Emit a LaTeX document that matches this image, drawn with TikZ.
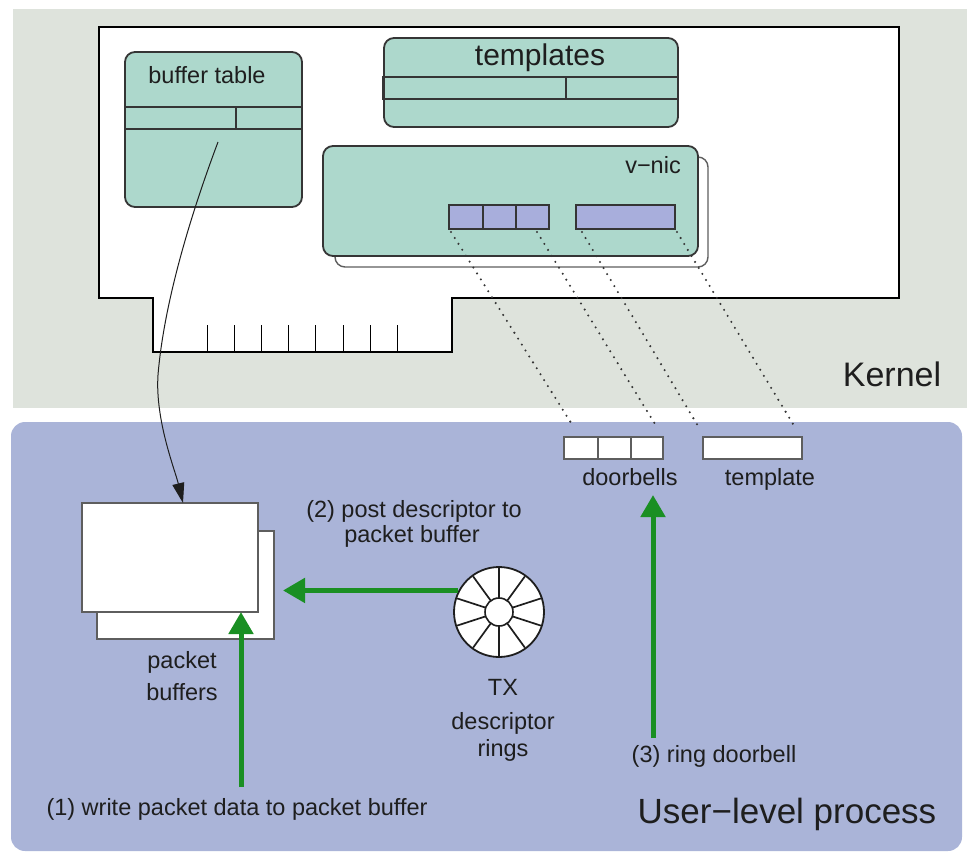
\documentclass[tikz,border=0pt]{standalone}
\usepackage{fontspec}
\setmainfont{Liberation Sans}
\usetikzlibrary{calc,arrows.meta}

\definecolor{kernelbg}{HTML}{DEE3DC}
\definecolor{userbg}{HTML}{AAB4D8}
\definecolor{tealfill}{HTML}{ADD8CC}
\definecolor{slotfill}{HTML}{A8AEDC}
\definecolor{flowgreen}{HTML}{1A8F23}
\definecolor{ink}{HTML}{1E1E1E}
\definecolor{edge}{HTML}{353535}
\definecolor{softedge}{HTML}{5E5E5E}

\tikzset{
  lbl/.style={font=\fontsize{23.5}{28}\selectfont, text=ink, inner sep=0pt, anchor=base},
  biglbl/.style={font=\fontsize{34}{40}\selectfont, text=ink, inner sep=0pt, anchor=base},
  tealbox/.style={draw=edge, line width=1.8pt, fill=tealfill, rounded corners=10pt,
    inner sep=0pt, outer sep=0pt, anchor=north west},
  backbox/.style={draw=softedge, line width=1.4pt, fill=white, rounded corners=10pt,
    inner sep=0pt, outer sep=0pt, anchor=north west},
  slot/.style={draw=edge, line width=1.2pt, fill=slotfill, inner sep=0pt, outer sep=0pt,
    anchor=north west, minimum height=24pt},
  uslot/.style={draw=softedge, line width=1.2pt, fill=white, inner sep=0pt, outer sep=0pt,
    anchor=north west, minimum height=22pt},
  bufsheet/.style={draw=softedge, line width=1.3pt, fill=white, inner sep=0pt, outer sep=0pt,
    anchor=north west},
  rowline/.style={draw=edge, line width=1.3pt},
  dotline/.style={draw=edge, line width=2.3pt, line cap=round, dash pattern=on 0pt off 7pt},
  garrow/.style={draw=flowgreen, line width=5pt, -{Triangle[length=22pt,width=24pt]}},
  karrow/.style={draw=ink, line width=1pt, -{Triangle[length=20pt,width=12pt]}},
}

\begin{document}
\begin{tikzpicture}[x=1pt,y=-1pt]
\useasboundingbox (0,0) rectangle (969,855);

% the two protection domains
\fill[kernelbg] (13,9) rectangle (967,408);
\fill[userbg, rounded corners=14pt] (11,422) rectangle (962,851);

% network card outline with its edge connector
\draw[black, line width=1.8pt, fill=white]
  (99,27) -- (899,27) -- (899,298) -- (452,298) -- (452,352)
  -- (153,352) -- (153,298) -- (99,298) -- cycle;
\foreach \i in {0,...,7}
  \draw[black, line width=1pt] ({207+27.2*\i},325) -- ({207+27.2*\i},352);

% buffer table
\node[tealbox, minimum width=177pt, minimum height=155pt] (btab) at (125,52) {};
\node[lbl] (btablbl) at (207,83) {buffer table};
\draw[rowline] (125,107) -- (302,107) (125,129) -- (302,129) (236,107) -- (236,129);

% templates
\node[tealbox, minimum width=294pt, minimum height=89pt] (tmpl) at (384,38) {};
\node[lbl, font=\fontsize{30}{34}\selectfont] (tmpllbl) at (540,65) {templates};
\draw[rowline] (383,77) rectangle (678,99) (566,77) -- (566,99);

% virtual NIC with a second one stacked behind
\node[backbox, minimum width=373pt, minimum height=110pt] (vnicback) at (335,157) {};
\node[tealbox, minimum width=375pt, minimum height=110pt] (vnic) at (323,146) {};
\node[lbl] (vniclbl) at (653,173) {v−nic};
\node[slot, minimum width=100pt] (vdb) at (449,205) {};
\draw[rowline] (483,205) -- (483,229) (516,205) -- (516,229);
\node[slot, minimum width=99pt] (vtp) at (576,205) {};

% doorbells and template mapped into the process
\node[uslot, minimum width=99pt] (udb) at (564,437) {};
\draw[draw=softedge, line width=1.2pt] (598,437) -- (598,459) (631,437) -- (631,459);
\node[uslot, minimum width=99pt] (utp) at (703,437) {};
\node[lbl] (udblbl) at (630,485) {doorbells};
\node[lbl] (utplbl) at (770,485) {template};

% mappings from the NIC into user space
\draw[dotline] ($(vdb.south west)+(2,3)$) -- ($(udb.north west)+(9,-11)$);
\draw[dotline] ($(vdb.south east)+(-12,3)$) -- ($(udb.north east)+(-8,-13)$);
\draw[dotline] ($(vtp.south west)+(6,3)$) -- ($(utp.north west)+(-5,-11)$);
\draw[dotline] ($(vtp.south east)+(2,3)$) -- ($(utp.north east)+(-9,-13)$);

% packet buffers
\node[bufsheet, minimum width=177pt, minimum height=108pt] (pbb) at (97,531) {};
\node[bufsheet, minimum width=176pt, minimum height=109pt] (pbf) at (82,503) {};
\node[lbl] (pbl1) at (182,668) {packet};
\node[lbl] (pbl2) at (182,700) {buffers};

% TX descriptor ring
\node[circle, draw=ink, line width=1.8pt, fill=white, minimum size=90pt, inner sep=0pt] (ring) at (499,612) {};
\foreach \a in {90,126,...,414}
  \draw[ink, line width=1.7pt] ($(ring.center)+(\a:14pt)$) -- ($(ring.center)+(\a:44pt)$);
\node[circle, draw=ink, line width=1.6pt, fill=white, minimum size=28pt, inner sep=0pt] (hub) at (ring.center) {};
\node[lbl] (txl1) at (503,695) {TX};
\node[lbl] (txl2) at (503,729) {descriptor};
\node[lbl] (txl3) at (503,756) {rings};

% buffer table entry refers to the packet buffer
\draw[karrow] ($(btab.north)+(4.5,90)$)
  .. controls (200,190) and (165,290) .. (158,375)
  .. controls (155,420) and (175,470) .. ($(pbf.north)+(13,0)$);

% steps
\node[lbl] (step1) at (237,815) {(1) write packet data to packet buffer};
\coordinate (s1) at (241,787);
\draw[garrow] (s1) -- (s1 |- pbf.south);

\node[lbl] (step2a) at (414,517) {(2) post descriptor to};
\node[lbl] (step2b) at (412,542) {packet buffer};
\draw[garrow, shorten >=9pt] (ring.152) -- (ring.152 -| pbb.east);

\node[lbl] (step3) at (714,762) {(3) ring doorbell};
\coordinate (s3) at (653,738);
\draw[garrow] (s3) -- (653,495);

% domain names
\node[biglbl] (kern) at (892,386) {Kernel};
\node[biglbl, font=\fontsize{35}{40}\selectfont] (user) at (787,823) {User−level process};
\end{tikzpicture}
\end{document}
